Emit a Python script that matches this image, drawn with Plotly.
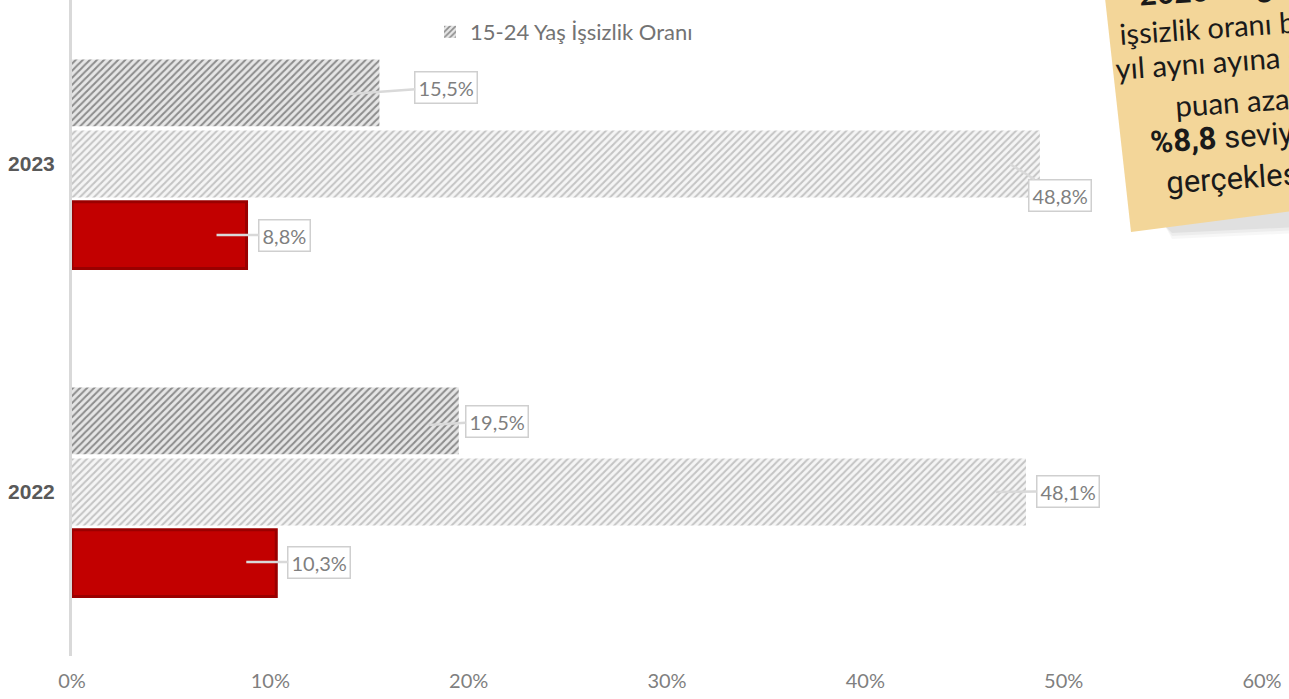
import plotly.graph_objects as go
import math

# ---------------- data ----------------
years = ["2022", "2023"]
series_names = ["İşsizlik Oranı", "İstihdam Oranı", "15-24 Yaş İşsizlik Oranı"]
unemployment = [10.3, 8.8]
employment = [48.1, 48.8]
youth_unemployment = [19.5, 15.5]
x_ticks = [0, 10, 20, 30, 40, 50, 60]
x_tick_labels = ["0%", "10%", "20%", "30%", "40%", "50%", "60%"]

note_lines = [
    "<b>2023 de genel</b>",
    "işsizlik oranı bir önceki",
    "yıl aynı ayına göre 1,5",
    "puan azalarak",
    "<b>%8,8</b> seviyesinde",
    "gerçekleşmiştir.",
]

# ---------------- layout constants ----------------
W, H = 1289, 699
ML, MR, MT, MB = 72, 27, 0, 43
PW, PH = W - ML - MR, H - MT - MB


def pxx(x):
    return (x - ML) / PW


def pxy(y):
    return (H - MB - y) / PH


GREY_TXT = "#7f7f7f"
humanist = "Lato, Open Sans, sans-serif"
narrow = "Roboto, Liberation Sans Narrow, sans-serif"
LABEL_FONT = dict(family=humanist, size=20, color=GREY_TXT)

fig = go.Figure()

series = [unemployment, employment, youth_unemployment]
styles = [
    dict(marker=dict(color="#c20000", line=dict(color="#9a0000", width=3))),
    dict(marker=dict(color="#f2f2f2",
                     pattern=dict(shape="/", fgcolor="#c4c4c4", bgcolor="#f5f5f5",
                                  size=5, solidity=0.4, fillmode="replace"),
                     line=dict(width=0))),
    dict(marker=dict(color="#e0e0e0",
                     pattern=dict(shape="/", fgcolor="#8c8c8c", bgcolor="#e6e6e6",
                                  size=5, solidity=0.4, fillmode="replace"),
                     line=dict(width=0))),
]
show_leg = [False, False, True]

for name, vals, st, sl in zip(series_names, series, styles, show_leg):
    fig.add_trace(go.Bar(
        y=years, x=vals, orientation="h", name=name,
        showlegend=sl, hoverinfo="skip", **st))

# ---------------- value callouts ----------------
slot = 71 / 328
bar_offsets = [-slot, 0.0, slot]
label_offsets = [  # (ax, ay, yshift) for [2022, 2023]
    [(73, 0, 1), (68, 0, 0)],
    [(72, -1, 0), (50, 31, 0)],
    [(68, -4, -4), (97, -7, -1)],
]
for si, vals in enumerate(series):
    for yi, v in enumerate(vals):
        ax, ay, ys = label_offsets[si][yi]
        fig.add_annotation(
            x=v, y=yi + bar_offsets[si], xref="x", yref="y",
            xshift=-30, yshift=ys,
            text=("%.1f" % v).replace(".", ",") + "%",
            showarrow=True, arrowhead=0, arrowwidth=2.5, arrowcolor="#d9d9d9",
            ax=ax, ay=ay,
            bgcolor="white", bordercolor="#cfcfcf", borderwidth=1.5, borderpad=3,
            font=LABEL_FONT,
        )

# ---------------- sticky note ----------------
def path(points):
    return "M " + " L ".join(f"{pxx(x)},{pxy(y)}" for x, y in points) + " Z"

# soft shadow
for i, a in enumerate([0.03, 0.04, 0.05]):
    d = 3 * (3 - i)
    fig.add_shape(type="path", xref="paper", yref="paper", layer="above",
                  path=path([(1165, 226), (1300, 208), (1300, 224 + d), (1172, 230 + d)]),
                  fillcolor=f"rgba(0,0,0,{a})", line=dict(width=0))
fig.add_shape(type="path", xref="paper", yref="paper", layer="above",
              path=path([(1103, -20), (1131, 232), (1300, 210), (1300, -20)]),
              fillcolor="#f3d699", line=dict(width=0))

note_specs = [  # left x, left-end y, font, size
    (1136, -6, humanist, 30),
    (1116, 36, humanist, 29),
    (1112, 70, humanist, 29.5),
    (1172, 106, humanist, 29.5),
    (1147, 142, narrow, 31),
    (1163, 183, narrow, 31),
]
ang = 4
for txt, (lx, ly, fam, fs) in zip(note_lines, note_specs):
    plain = txt.replace("<b>", "").replace("</b>", "")
    wid = len(plain) * fs * (0.5 if fam == humanist else 0.45)
    cy = ly - (wid / 2) * math.sin(math.radians(ang))
    fig.add_annotation(
        x=pxx(lx), y=pxy(cy), xref="paper", yref="paper",
        xanchor="left", yanchor="middle", text=txt, showarrow=False,
        textangle=-ang, font=dict(family=fam, size=fs, color="#1a1a1a"),
    )

fig.update_layout(
    width=W, height=H,
    margin=dict(l=ML, r=MR, t=MT, b=MB),
    paper_bgcolor="white", plot_bgcolor="white",
    barmode="group", bargap=0.35, bargroupgap=0.06,
    legend=dict(x=pxx(430), y=pxy(32), xanchor="left", yanchor="middle",
                orientation="h", bgcolor="rgba(0,0,0,0)",
                font=dict(family=humanist, size=22, color="#737373")),
    xaxis=dict(range=[0, 60], tickvals=x_ticks, ticktext=x_tick_labels,
               showgrid=False, zeroline=False, showline=False, ticks="",
               tickfont=dict(family=humanist, size=20, color=GREY_TXT),
               ticklabelstandoff=11, fixedrange=True),
    yaxis=dict(type="category", categoryorder="array", categoryarray=years,
               range=[-0.5, 1.5], tickvals=years,
               ticktext=[f"<b>{y}</b>" for y in years],
               showgrid=False, zeroline=False, showline=True,
               linecolor="#d9d9d9", linewidth=3, ticks="",
               tickfont=dict(family="Liberation Sans, Arial, sans-serif", size=21, color="#595959"),
               ticklabelstandoff=10, fixedrange=True),
)

fig.write_html(
    "out.html",
    config={"displayModeBar": False},
    post_script="document.body.style.margin='0';document.body.style.overflow='hidden';",
)
